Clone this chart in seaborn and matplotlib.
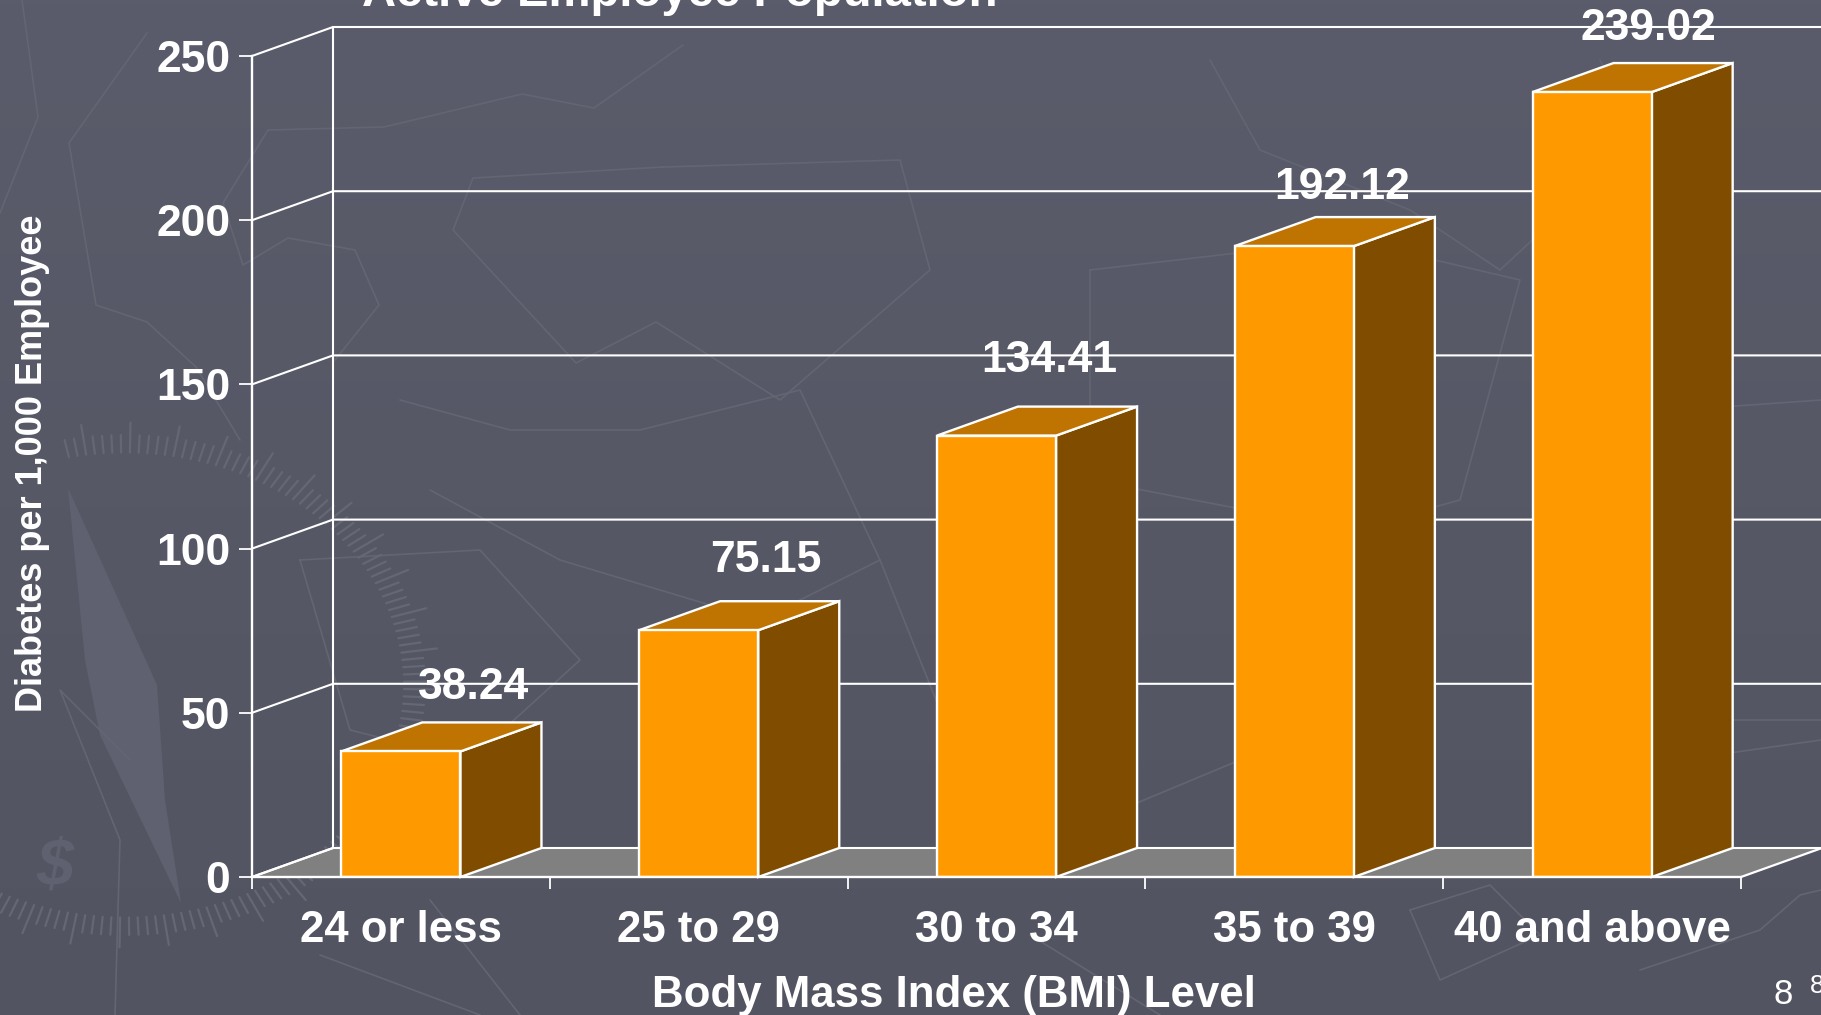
import numpy as np
import matplotlib
matplotlib.use('Agg')
import matplotlib.pyplot as plt
import seaborn as sns

categories = ['24 or less', '25 to 29', '30 to 34', '35 to 39', '40 and above']
rates = [38.24, 75.15, 134.41, 192.12, 239.02]
y_ticks = [0, 50, 100, 150, 200, 250]

# where each value label sits relative to its bar (data units)
label_dx = [0.244, 0.224, 0.178, 0.162, 0.189]
label_dy = [19.6, 21.1, 22.8, 17.7, 19.3]

FRONT, TOP, SIDE, FLOOR = '#FF9900', '#BF7300', '#804D00', '#808080'
W, H = 1821, 1015

sns.set_style('white')
plt.rcParams['font.family'] = ['Liberation Sans', 'DejaVu Sans']
plt.rcParams['font.weight'] = 'bold'

fig = plt.figure(figsize=(W / 100, H / 100), dpi=100)

# background layer in pixel coordinates
bg = fig.add_axes([0, 0, 1, 1], zorder=0)
grad = np.linspace(0, 1, 256).reshape(-1, 1, 1)
top_c = np.array([0x5A, 0x5C, 0x6B]) / 255
bot_c = np.array([0x52, 0x54, 0x61]) / 255
bg.imshow(top_c + (bot_c - top_c) * grad, extent=[0, W, H, 0], aspect='auto')
bg.set_xlim(0, W)
bg.set_ylim(H, 0)
bg.axis('off')

# faint watermark
faint = '#636573'
shapes = [
    [(22, 0), (38, 117), (0, 213)],
    [(147, 33), (69, 143), (96, 305), (147, 322), (196, 367), (240, 440)],
    [(268, 130), (384, 127), (522, 94), (594, 108), (683, 45)],
    [(268, 130), (223, 203), (243, 265), (288, 238), (355, 250), (379, 305), (335, 360)],
    [(663, 167), (473, 178), (453, 230), (576, 363), (656, 322), (780, 400), (930, 270), (900, 160), (663, 167)],
    [(1210, 60), (1260, 150), (1410, 210), (1500, 270), (1640, 140), (1600, 60)],
    [(1090, 270), (1350, 240), (1520, 280), (1460, 500), (1350, 530), (1090, 480), (1090, 270)],
    [(400, 400), (510, 430), (640, 430), (800, 390), (880, 560), (760, 620), (560, 560), (430, 490)],
    [(300, 560), (480, 550), (580, 660), (470, 760), (350, 730), (300, 560)],
    [(130, 760), (60, 690), (120, 840), (115, 1015)],
    [(430, 900), (520, 1015)],
    [(320, 955), (480, 1015)],
    [(880, 560), (1000, 860), (1240, 760)],
    [(1030, 935), (1160, 1015)],
    [(1410, 910), (1490, 885), (1540, 935), (1440, 980), (1410, 910)],
    [(1640, 970), (1760, 930), (1800, 895), (1821, 890)],
    [(1700, 720), (1821, 720)],
    [(1600, 300), (1680, 410), (1821, 400)],
    [(1560, 580), (1680, 760), (1821, 740)],
]
for s in shapes:
    xs, ys = zip(*s)
    bg.plot(xs, ys, color=faint, lw=1.2, solid_joinstyle='round')

# compass needle and scale
bg.fill([68, 157, 165, 181, 100, 85], [488, 685, 800, 903, 735, 660], color='#5F6170', lw=0)
for i, ang in enumerate(np.arange(-118, 102, 1.8)):
    a = np.radians(ang)
    r0, r1 = (0.93, 1.05) if i % 5 == 0 else (0.93, 1.0)
    bg.plot([125 + 300 * r0 * np.cos(a), 125 + 300 * r1 * np.cos(a)],
            [685 - 250 * r0 * np.sin(a), 685 - 250 * r1 * np.sin(a)], color='#656775', lw=1.6)
bg.text(55, 868, '$', color='#5F6170', fontsize=48, ha='center', va='center', style='italic')

# chart
ax = fig.add_axes([252 / W, 1 - 877 / H, 1489 / W, 821 / H], zorder=1)
ax.patch.set_alpha(0)
sns.barplot(x=categories, y=rates, ax=ax, color=FRONT, saturation=1, width=0.4,
            edgecolor='white', linewidth=1.7, zorder=4)
ax.set_xlim(-0.5, 4.5)
ax.set_ylim(0, 250)

# depth of the fake 3D box, in data units
dx = 81 / (1489 / 5)
dy = 29 / (821 / 250)

# floor and back wall
ax.fill([-0.5, -0.5 + dx, 4.5 + dx, 4.5], [0, dy, dy, 0], color=FLOOR, lw=0, zorder=1, clip_on=False)
ax.plot([-0.5, -0.5 + dx], [0, dy], color='white', lw=1.6, zorder=2, clip_on=False)
ax.plot([4.5, 4.5 + dx], [0, dy], color='white', lw=1.6, zorder=2, clip_on=False)
ax.plot([-0.5 + dx, -0.5 + dx], [dy, 250 + dy], color='white', lw=1.5, zorder=2, clip_on=False)
for t in y_ticks:
    ax.plot([-0.5, -0.5 + dx, 4.5 + dx], [t, t + dy, t + dy], color='white', lw=1.5, zorder=2, clip_on=False)
ax.plot([4.5 + dx, 4.5 + dx], [dy, 250 + dy], color='#9A9BA5', lw=1.2, zorder=2, clip_on=False)

# top and side faces come from the seaborn bars
for bar, value, ldx, ldy in zip(ax.patches, rates, label_dx, label_dy):
    x0 = bar.get_x()
    x1 = x0 + bar.get_width()
    h = bar.get_height()
    ax.fill([x1, x1 + dx, x1 + dx, x1], [0, dy, h + dy, h], facecolor=SIDE, edgecolor='white', lw=1.7,
            zorder=3, clip_on=False)
    ax.fill([x0, x0 + dx, x1 + dx, x1], [h, h + dy, h + dy, h], facecolor=TOP, edgecolor='white', lw=1.7,
            zorder=3, clip_on=False)
    ax.text((x0 + x1) / 2 + ldx, value + ldy, f'{value:.2f}', color='white', fontsize=32,
            ha='center', va='center', zorder=6, clip_on=False)

# axes
sns.despine(ax=ax, top=True, right=True)
for side in ['left', 'bottom']:
    ax.spines[side].set_color('white')
    ax.spines[side].set_linewidth(1.7)
    ax.spines[side].set_zorder(5)
ax.set_yticks(y_ticks)
ax.set_xticks(np.arange(-0.5, 5, 1))
ax.set_xticklabels([])
ax.set_xticks(range(5), categories, minor=True)
ax.tick_params(axis='x', which='major', direction='out', length=8.6, width=1.3, color='white', bottom=True)
ax.tick_params(axis='x', which='minor', length=0, pad=24, labelsize=31.5, labelcolor='white', bottom=True)
ax.tick_params(axis='y', direction='out', length=9.5, width=1.3, color='white', pad=6, labelsize=32,
               labelcolor='white', left=True)
ax.grid(False)

fig.text(954 / W, 1 - 996 / H, 'Body Mass Index (BMI) Level', color='white', fontsize=31.6,
         ha='center', va='center')
fig.text(33 / W, 1 - 463 / H, 'Diabetes per 1,000 Employee', color='white', fontsize=26,
         ha='center', va='center', rotation=90)
fig.text(680 / W, 1 - 6 / H, 'Active Employee Population', color='white', fontsize=34,
         ha='center', va='baseline')
fig.text(1783 / W, 1 - 995 / H, '8', color='white', fontsize=25, fontweight='normal', ha='center', va='center')
fig.text(1810 / W, 1 - 986 / H, '8', color='white', fontsize=19, fontweight='normal', ha='left', va='center')

fig.savefig('out.png', dpi=100)
